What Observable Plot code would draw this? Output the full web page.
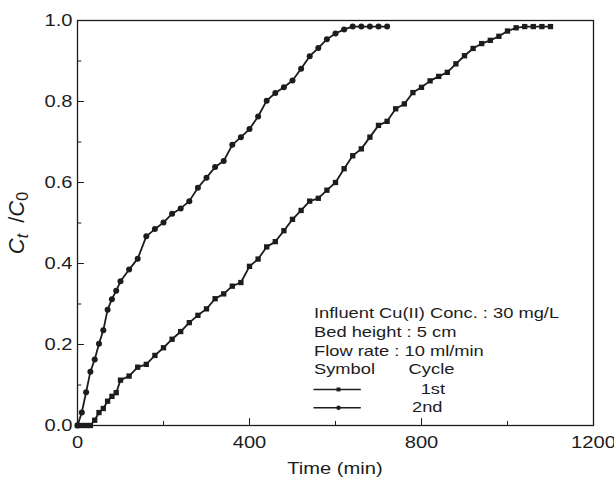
<!DOCTYPE html>
<html><head><meta charset="utf-8">
<script src="https://cdn.jsdelivr.net/npm/d3@7"></script>
<script src="https://cdn.jsdelivr.net/npm/@observablehq/plot@0.6"></script>
<style>body{margin:0;background:#fff} svg{display:block}</style>
</head><body><div id="chart"></div>
<script>
// 1st cycle (squares)
const time1 = [0,10,20,30,40,50,60,70,80,90,100,120,140,160,180,200,220,240,260,280,300,320,340,360,380,400,420,440,460,480,500,520,540,560,580,600,620,640,660,680,700,720,740,760,780,800,820,840,860,880,900,920,940,960,980,1000,1020,1040,1060,1080,1100];
const conc1 = [0,0,0,0,0.013,0.032,0.042,0.060,0.072,0.081,0.112,0.122,0.144,0.151,0.173,0.192,0.213,0.232,0.254,0.272,0.288,0.313,0.325,0.344,0.353,0.393,0.411,0.441,0.454,0.481,0.509,0.531,0.554,0.561,0.581,0.600,0.634,0.666,0.683,0.712,0.741,0.751,0.782,0.794,0.822,0.835,0.851,0.862,0.872,0.893,0.913,0.931,0.943,0.951,0.961,0.974,0.982,0.985,0.985,0.985,0.985];
// 2nd cycle (circles)
const time2 = [0,10,20,30,40,50,60,70,80,90,100,120,140,160,180,200,220,240,260,280,300,320,340,360,380,400,420,440,460,480,500,520,540,560,580,600,620,640,660,680,700,720];
const conc2 = [0,0.032,0.082,0.133,0.163,0.202,0.235,0.286,0.312,0.333,0.356,0.385,0.412,0.467,0.485,0.501,0.523,0.536,0.554,0.587,0.612,0.638,0.653,0.693,0.712,0.732,0.763,0.802,0.821,0.835,0.852,0.881,0.912,0.932,0.954,0.968,0.978,0.985,0.985,0.985,0.985,0.985];

const xTicks = [0,400,800,1200];
const xMinor = [200,600,1000];
const yTicks = [0,0.2,0.4,0.6,0.8,1.0];
const yMinor = [0.1,0.3,0.5,0.7,0.9];
const infoLines = ["Influent Cu(II) Conc. : 30 mg/L","Bed height : 5 cm","Flow rate : 10 ml/min"];
const legendHead = ["Symbol","Cycle"];
const seriesNames = ["1st","2nd"];
const xLabel = "Time (min)";

const s1 = time1.map((t,i)=>({t, c: conc1[i]}));
const s2 = time2.map((t,i)=>({t, c: conc2[i]}));

const ink = "#1c1c1c";
const font = "'Liberation Sans', Arial, Helvetica, sans-serif";

// legend rows (annotation placement in data units)
const infoRows = infoLines.map((s,i)=>({s, y:[0.277,0.230,0.184][i]}));
const legRows = [{name:seriesNames[0], y:0.089, sym:"square", tx:798},{name:seriesNames[1], y:0.044, sym:"circle", tx:778}];

const plot = Plot.plot({
  width: 614, height: 477,
  marginLeft: 77, marginRight: 21, marginTop: 20, marginBottom: 52,
  style: {fontFamily: font, fontSize: "15px", background: "white", color: ink},
  x: {domain: [0,1200]},
  y: {domain: [0,1]},
  marks: [
    Plot.axisY({ticks: yTicks, tickFormat: d3.format(".1f"), tickSize: 0, tickPadding: 5, label: null, fontSize: 16.5}),
    Plot.axisX({ticks: xTicks, tickFormat: d=>String(d), tickSize: 0, tickPadding: 11, label: null, fontSize: 16.5}),
    Plot.ruleY(yTicks, {y: d=>d, x1: 0, x2: 16, stroke: ink, strokeWidth: 1}),
    Plot.ruleY(yMinor, {y: d=>d, x1: 0, x2: 10, stroke: ink, strokeWidth: 1}),
    Plot.ruleX(xTicks, {x: d=>d, y1: 0, y2: 0.017, stroke: ink, strokeWidth: 1}),
    Plot.ruleX(xMinor, {x: d=>d, y1: 0, y2: 0.010, stroke: ink, strokeWidth: 1}),
    Plot.frame({stroke: ink, strokeWidth: 1.3}),
    Plot.line(s1, {x:"t", y:"c", stroke: ink, strokeWidth: 1.8}),
    Plot.dot(s1, {x:"t", y:"c", symbol:"square", r: 3, fill: ink, stroke: "none"}),
    Plot.line(s2, {x:"t", y:"c", stroke: ink, strokeWidth: 1.8}),
    Plot.dot(s2, {x:"t", y:"c", symbol:"circle", r: 3, fill: ink, stroke: "none"}),
    // legend / annotation
    Plot.text(infoRows, {x: 550, y: "y", text: "s", textAnchor: "start", fontSize: 15, fill: ink}),
    Plot.text([legendHead[0]], {x: 550, y: 0.138, text: d=>d, textAnchor: "start", fontSize: 15, fill: ink}),
    Plot.text([legendHead[1]], {x: 770, y: 0.138, text: d=>d, textAnchor: "start", fontSize: 15, fill: ink}),
    Plot.ruleY(legRows, {y: "y", x1: 550, x2: 660, stroke: ink, strokeWidth: 1.4}),
    Plot.dot(legRows, {x: 607, y: "y", symbol: "sym", r: 2.2, fill: ink, stroke: "none"}),
    Plot.text(legRows, {x: "tx", y: "y", text: "name", textAnchor: "start", fontSize: 15, fill: ink})
  ]
});
document.getElementById("chart").appendChild(plot);

const svg = d3.select(plot);
// x axis title
svg.append("text").attr("x", 335).attr("y", 474).attr("text-anchor","middle")
  .attr("font-size", 16.5).attr("fill", ink).attr("font-family", font).text(xLabel);
// y axis title C_t / C_0
const yl = svg.append("text").attr("transform","translate(24,223) rotate(-90)").attr("text-anchor","middle")
  .attr("font-size", 22).attr("fill", ink).attr("font-family", font);
yl.append("tspan").attr("font-style","italic").text("C");
yl.append("tspan").attr("font-style","italic").attr("font-size",16).attr("dy",4).text("t");
yl.append("tspan").attr("dy",-4).text("\u2002/");
yl.append("tspan").attr("font-style","italic").text("C");
yl.append("tspan").attr("font-size",16).attr("dy",4).text("0");

// the reference's text is horizontally widened; stretch horizontal texts to match
plot.querySelectorAll("text").forEach(t => {
  if (t.querySelector("tspan") || (t.getAttribute("transform")||"").includes("rotate")) return;
  const w = t.getComputedTextLength();
  if (w > 0) { t.setAttribute("textLength", (w*1.22).toFixed(1)); t.setAttribute("lengthAdjust","spacingAndGlyphs"); }
});
</script></body></html>
